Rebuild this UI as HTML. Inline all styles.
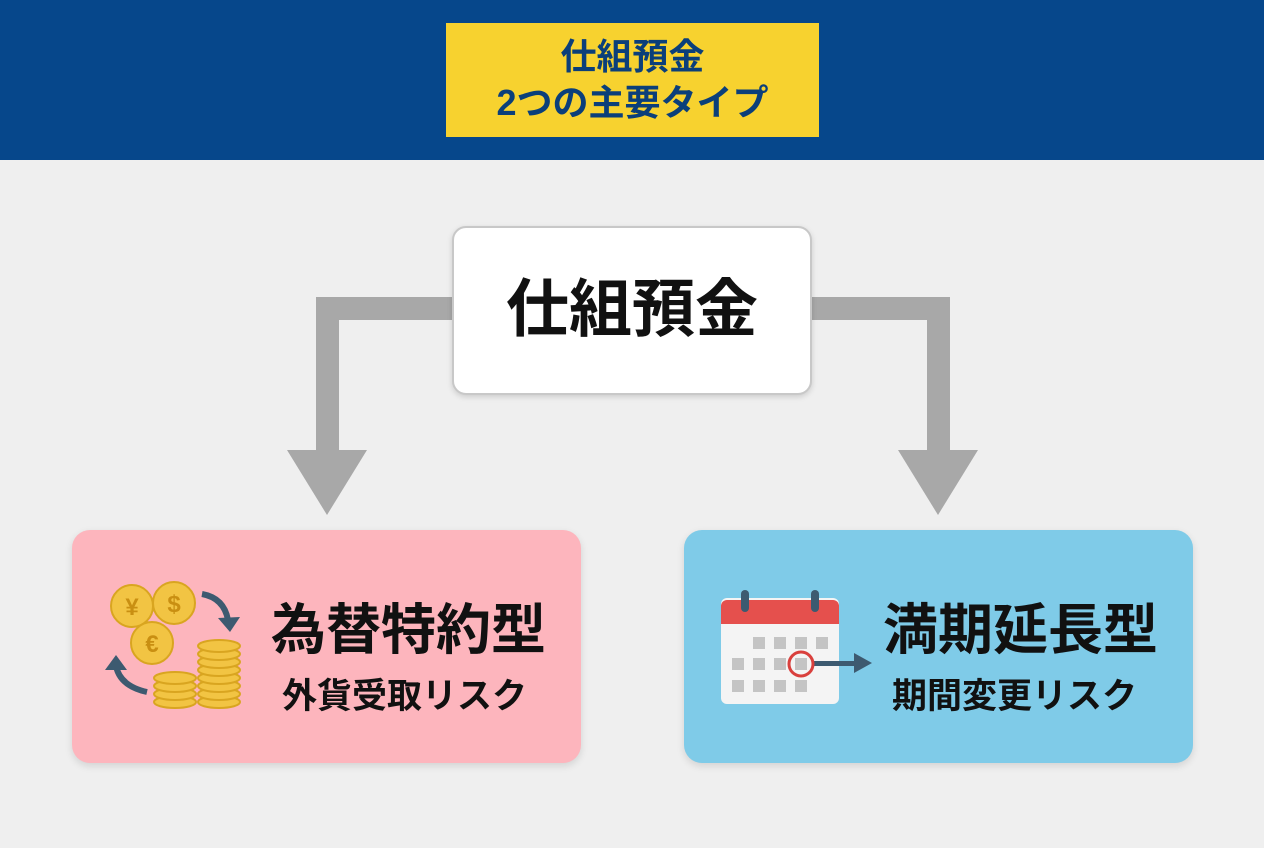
<!DOCTYPE html>
<html><head><meta charset="utf-8"><style>
body{margin:0;width:1264px;height:848px;background:#efefef;font-family:"Liberation Sans","Noto Sans CJK JP",sans-serif;position:relative;overflow:hidden}
.hdr{position:absolute;left:0;top:0;width:1264px;height:160px;background:#06478b}
.yb{position:absolute;left:446px;top:23px;width:373px;height:114px;background:#f7d22f;color:#0b3f7a;font-weight:bold;font-size:36px;text-align:center;line-height:46px;box-sizing:border-box;padding-top:11px}
.cb{position:absolute;left:452px;top:226px;width:360px;height:169px;background:#fff;border:2px solid #c8c8c8;border-radius:14px;box-sizing:border-box;box-shadow:0 2px 6px rgba(0,0,0,.15);font-weight:bold;font-size:63px;text-align:center;line-height:165px;color:#111}
.card{position:absolute;top:530px;width:509px;height:233px;border-radius:18px;box-shadow:0 3px 8px rgba(0,0,0,.12)}
.t{position:absolute;font-weight:bold;color:#111;white-space:nowrap}
</style></head><body>
<div class="hdr"></div>
<div class="yb">仕組預金<br>2つの主要タイプ</div>
<svg style="position:absolute;left:0;top:0" width="1264" height="848">
<g fill="#a8a8a8">
<rect x="316" y="297" width="140" height="23"/><rect x="316" y="297" width="23" height="160"/>
<polygon points="287,450 367,450 327,515"/>
<rect x="808" y="297" width="142" height="23"/><rect x="927" y="297" width="23" height="160"/>
<polygon points="898,450 978,450 938,515"/>
</g></svg>
<div class="cb">仕組預金</div>
<div class="card" style="left:72px;background:#fdb5bd"></div>
<div class="card" style="left:684px;background:#7fcbe8"></div>
<div class="t" style="left:271px;top:585px;font-size:55px">為替特約型</div>
<div class="t" style="left:282px;top:668px;font-size:35px">外貨受取リスク</div>
<div class="t" style="left:883px;top:585px;font-size:55px">満期延長型</div>
<div class="t" style="left:892px;top:668px;font-size:35px">期間変更リスク</div>
<svg style="position:absolute;left:90px;top:570px" width="170" height="150">
<g stroke="#d9a520" stroke-width="2" fill="#f2c443">
<circle cx="42" cy="36" r="21"/><circle cx="84" cy="33" r="21"/><circle cx="62" cy="73" r="21"/>
<ellipse cx="129" cy="132" rx="21" ry="6"/><ellipse cx="129" cy="124" rx="21" ry="6"/><ellipse cx="129" cy="116" rx="21" ry="6"/><ellipse cx="129" cy="108" rx="21" ry="6"/><ellipse cx="129" cy="100" rx="21" ry="6"/><ellipse cx="129" cy="92" rx="21" ry="6"/><ellipse cx="129" cy="84" rx="21" ry="6"/><ellipse cx="129" cy="76" rx="21" ry="6"/>
<ellipse cx="85" cy="132" rx="21" ry="6"/><ellipse cx="85" cy="124" rx="21" ry="6"/><ellipse cx="85" cy="116" rx="21" ry="6"/><ellipse cx="85" cy="108" rx="21" ry="6"/>
</g>
<g fill="#c98f12" font-weight="bold" font-size="24" text-anchor="middle" font-family="Liberation Sans">
<text x="42" y="45">¥</text><text x="84" y="42">$</text><text x="62" y="82">€</text></g>
<g stroke="#3d5a70" stroke-width="6" fill="none"><path d="M112 24 Q134 28 138 50"/><path d="M57 122 Q30 116 26 96"/></g>
<g fill="#3d5a70"><polygon points="128,48 150,47 140,62"/><polygon points="15,100 37,100 26,85"/></g>
</svg>
<svg style="position:absolute;left:700px;top:570px" width="190" height="150">
<rect x="21" y="28" width="118" height="106" rx="6" fill="#f4f4f4"/>
<path d="M21 54 V36 a6 6 0 0 1 6-6 h106 a6 6 0 0 1 6 6 V54z" fill="#e5504d"/>
<rect x="41" y="20" width="8" height="22" rx="4" fill="#3d5a70"/><rect x="111" y="20" width="8" height="22" rx="4" fill="#3d5a70"/>
<g fill="#c4c4c4">
<rect x="53" y="67" width="12" height="12"/><rect x="74" y="67" width="12" height="12"/><rect x="95" y="67" width="12" height="12"/><rect x="116" y="67" width="12" height="12"/>
<rect x="32" y="88" width="12" height="12"/><rect x="53" y="88" width="12" height="12"/><rect x="74" y="88" width="12" height="12"/><rect x="95" y="88" width="12" height="12"/>
<rect x="32" y="110" width="12" height="12"/><rect x="53" y="110" width="12" height="12"/><rect x="74" y="110" width="12" height="12"/><rect x="95" y="110" width="12" height="12"/></g>
<rect x="112" y="91" width="45" height="5" fill="#3d5a70"/><polygon points="154,83 172,93 154,103" fill="#3d5a70"/>
<circle cx="101" cy="94" r="12" fill="none" stroke="#d9403d" stroke-width="3"/>
</svg>
</body></html>
